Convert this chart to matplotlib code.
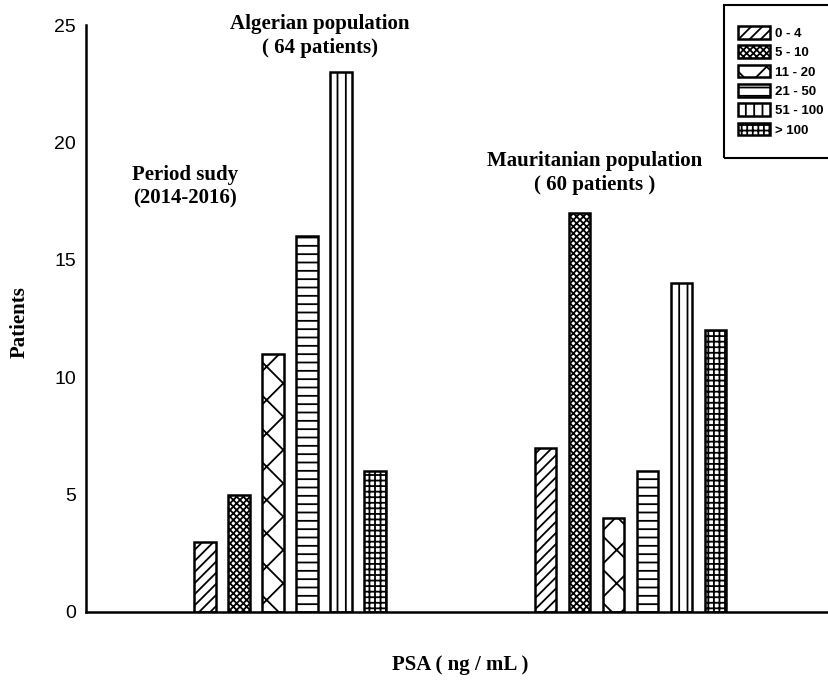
import matplotlib.pyplot as plt
from matplotlib.patches import Patch, Rectangle
import numpy as np

plt.rcParams['hatch.linewidth'] = 1.3

# PSA ranges (ng/mL) and patient counts per population
ranges = ['0 - 4', '5 - 10', '11 - 20', '21 - 50', '51 - 100', '> 100']
algerian = [3, 5, 11, 16, 23, 6]
mauritanian = [7, 17, 4, 6, 14, 12]
hatches = ['///', 'xxxxx', 'x', '--', '||', '+++']

fig = plt.figure(figsize=(8.29, 6.83), dpi=100)
ax = fig.add_axes([0.1037, 0.104, 0.8963, 0.859])

groups = [0, 1]
offsets = (np.arange(len(ranges)) - 2.5) * 0.1
width = 0.062
for i, (rng, h) in enumerate(zip(ranges, hatches)):
    ax.bar([g + offsets[i] for g in groups], [algerian[i], mauritanian[i]],
           width=width, color='white', edgecolor='black', linewidth=1.8,
           hatch=h)

ax.set_xlim(-0.6, 1.585)
ax.set_ylim(0, 25)
ax.set_yticks([0, 5, 10, 15, 20, 25])
ax.set_xticks([])
ax.tick_params(axis='y', length=0, labelsize=14, pad=7)
for lab in ax.get_yticklabels():
    lab.set_family('Liberation Sans')
for s in ['top', 'right']:
    ax.spines[s].set_visible(False)
for s in ['left', 'bottom']:
    ax.spines[s].set_linewidth(1.8)

serif = dict(family='Liberation Serif', weight='bold', fontsize=15,
             ha='center', va='center')
fig.text(320 / 829, 1 - 36 / 683, 'Algerian population\n( 64 patients)',
         linespacing=1.25, **serif)
fig.text(185 / 829, 1 - 187 / 683, 'Period sudy\n(2014-2016)',
         linespacing=1.25, **serif)
fig.text(595 / 829, 1 - 173 / 683, 'Mauritanian population\n( 60 patients )',
         linespacing=1.25, **serif)
fig.text(460 / 829, 1 - 665 / 683, 'PSA ( ng / mL )', **serif)
fig.text(20 / 829, 1 - 322 / 683, 'Patients', rotation=90, **serif)

# legend box runs off the right edge of the figure
fig.patches.append(Rectangle((724 / 829, 1 - 158 / 683), 0.2, 153 / 683,
                             transform=fig.transFigure, fill=False,
                             edgecolor='black', linewidth=1.5))
handles = [Patch(facecolor='white', edgecolor='black', linewidth=1.8,
                 hatch=h, label=r) for r, h in zip(ranges, hatches)]
fig.legend(handles=handles, loc='upper left',
           bbox_to_anchor=(738 / 829, 1 - 26 / 683),
           prop=dict(family='Liberation Sans', weight='bold', size=9.5),
           frameon=False, handlelength=2.4, handleheight=1.1,
           labelspacing=0.42, handletextpad=0.4, borderpad=0,
           borderaxespad=0)

fig.savefig('out.png', dpi=100)
